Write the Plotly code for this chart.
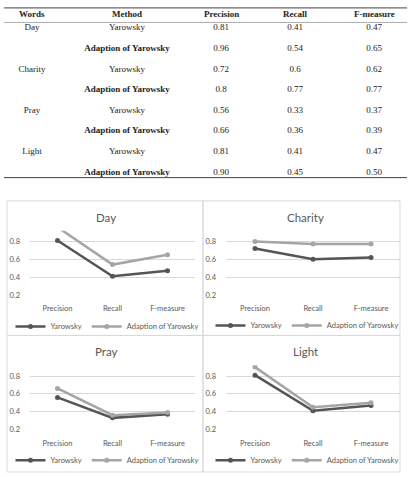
import plotly.graph_objects as go

# ---------------- data ----------------
words = ["Day", "Charity", "Pray", "Light"]
methods = ["Yarowsky", "Adaption of Yarowsky"]
metrics = ["Precision", "Recall", "F-measure"]
table_headers = ["Words", "Method", "Precision", "Recall", "F-measure"]

# table rows: for each word -> Yarowsky, Adaption of Yarowsky
precision_txt = ["0.81", "0.96", "0.72", "0.8", "0.56", "0.66", "0.81", "0.90"]
recall_txt = ["0.41", "0.54", "0.6", "0.77", "0.33", "0.36", "0.41", "0.45"]
fmeasure_txt = ["0.47", "0.65", "0.62", "0.77", "0.37", "0.39", "0.47", "0.50"]

# ---------------- layout constants ----------------
W, H = 411, 477
TABLE_COL_X = [32, 127, 221, 295, 374]   # column centres (table axis units = px)


def px(x):
    return x / W


def py(y):
    return 1 - y / H


fig = go.Figure()
shapes = []
annotations = []

# ---------------- table (text on a hidden axis pair) ----------------
col_words, col_methods = [], []
for w in words:
    for j, m in enumerate(methods):
        col_words.append(w if j == 0 else "")
        col_methods.append(m if j == 0 else "<b>" + m + "</b>")
columns = [col_words, col_methods, precision_txt, recall_txt, fmeasure_txt]

cell_x, cell_y, cell_t = [], [], []
for c, col in enumerate(columns):
    for r, t in enumerate(col):
        if t == "":
            continue
        cell_x.append(TABLE_COL_X[c])
        cell_y.append(r)
        cell_t.append(t)

fig.add_trace(go.Scatter(
    x=cell_x, y=cell_y, text=cell_t, mode="text", textposition="middle center",
    textfont=dict(family="Liberation Serif", size=9, color="#222"),
    xaxis="x5", yaxis="y5", showlegend=False, hoverinfo="skip",
))
fig.layout.xaxis5 = dict(domain=[0, 1], range=[0, W], visible=False, fixedrange=True, anchor="y5")
fig.layout.yaxis5 = dict(domain=[py(180), py(22)], range=[7.272, -0.302], visible=False,
                         fixedrange=True, anchor="x5")

for c, h in enumerate(table_headers):
    annotations.append(dict(
        text="<b>" + h + "</b>", x=TABLE_COL_X[c], xref="x5", y=py(14.5), yref="paper",
        xanchor="center", yanchor="middle", showarrow=False,
        font=dict(family="Liberation Serif", size=9, color="#222"),
    ))

shapes += [
    dict(type="line", xref="paper", yref="paper", x0=px(4), x1=px(407), y0=py(8), y1=py(8),
         line=dict(color="#444", width=1)),
    dict(type="line", xref="paper", yref="paper", x0=px(4), x1=px(407), y0=py(22.7), y1=py(22.7),
         line=dict(color="#999", width=0.8)),
    dict(type="line", xref="paper", yref="paper", x0=px(4), x1=px(407), y0=py(179.5), y1=py(179.5),
         line=dict(color="#444", width=1)),
]

# ---------------- charts ----------------
panels = [
    dict(x=(30, 195), y=(233.2, 298), tx=105.5, ty=219.5, lx=107, ly=330, b=(7, 203, 203, 339)),
    dict(x=(226, 400), y=(233.2, 298), tx=305.5, ty=219.5, lx=307, ly=329, b=(203, 400, 203, 339)),
    dict(x=(30, 195), y=(369.2, 434), tx=105.5, ty=355.5, lx=107, ly=465, b=(7, 203, 339, 477)),
    dict(x=(226, 400), y=(369.2, 434), tx=305.5, ty=355.5, lx=307, ly=465, b=(203, 400, 339, 477)),
]

colors = ["#555555", "#A5A5A5"]
tick_font = dict(family="Lato", size=7.5, color="#595959")

for i, w in enumerate(words):
    p = panels[i]
    sfx = "" if i == 0 else str(i + 1)
    leg = "legend" if i == 0 else "legend" + str(i + 1)
    for j, m in enumerate(methods):
        row = 2 * i + j
        vals = [float(precision_txt[row]), float(recall_txt[row]), float(fmeasure_txt[row])]
        fig.add_trace(go.Scatter(
            x=metrics, y=vals, name=m, mode="lines+markers",
            line=dict(color=colors[j], width=2.5),
            marker=dict(color=colors[j], size=5),
            xaxis="x" + sfx, yaxis="y" + sfx, legend=leg,
        ))
    fig.layout["xaxis" + sfx] = dict(
        domain=[px(p["x"][0]), px(p["x"][1])], anchor="y" + sfx,
        type="category", range=[-0.5, 2.5], showgrid=False, showline=False, zeroline=False,
        ticks="", tickfont=tick_font, ticklabelstandoff=8, fixedrange=True,
    )
    fig.layout["yaxis" + sfx] = dict(
        domain=[py(p["y"][1]), py(p["y"][0])], anchor="x" + sfx,
        range=[0.2, 0.92], tickvals=[0.2, 0.4, 0.6, 0.8], ticktext=["0.2", "0.4", "0.6", "0.8"],
        showgrid=True, gridcolor="#D9D9D9", gridwidth=1, zeroline=False, showline=False,
        ticks="", tickfont=tick_font, ticklabelstandoff=9, fixedrange=True,
    )
    fig.layout[leg] = dict(
        orientation="h", x=px(p["lx"]), y=py(p["ly"]), xanchor="center", yanchor="middle",
        font=dict(family="Lato", size=7.5, color="#595959"), bgcolor="rgba(0,0,0,0)",
        itemwidth=30, tracegroupgap=0,
    )
    annotations.append(dict(
        text=w, x=px(p["tx"]), y=py(p["ty"]), xref="paper", yref="paper",
        xanchor="center", yanchor="middle", showarrow=False,
        font=dict(family="Lato", size=11.5, color="#595959"),
    ))
    bx0, bx1, by0, by1 = p["b"]
    shapes.append(dict(type="rect", xref="paper", yref="paper",
                       x0=px(bx0), x1=px(bx1), y0=py(by1), y1=py(by0),
                       line=dict(color="#D9D9D9", width=1), fillcolor="rgba(0,0,0,0)", layer="below"))

fig.update_layout(
    width=W, height=H, autosize=False,
    margin=dict(l=0, r=0, t=0, b=0),
    paper_bgcolor="white", plot_bgcolor="white",
    shapes=shapes, annotations=annotations,
    showlegend=True,
)

fig.write_html("out.html", config={"displayModeBar": False})
